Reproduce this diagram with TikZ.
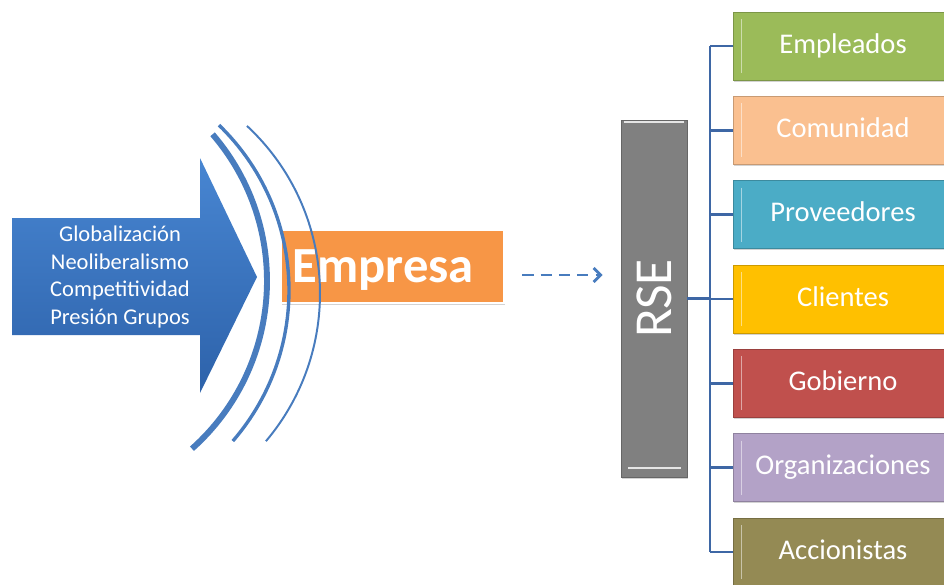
\documentclass[tikz,border=0pt]{standalone}
\usepackage{fontspec}
\setmainfont{Carlito}
\usetikzlibrary{arrows.meta,shadows}

\definecolor{azulclaro}{RGB}{72,134,210}
\definecolor{azuloscuro}{RGB}{45,98,170}
\definecolor{arco}{RGB}{72,124,190}
\definecolor{linea}{RGB}{62,103,165}
\definecolor{naranja}{RGB}{247,150,70}
\definecolor{gris}{RGB}{128,128,128}
\definecolor{verde}{RGB}{155,187,89}
\definecolor{salmon}{RGB}{250,192,144}
\definecolor{aqua}{RGB}{75,172,198}
\definecolor{oro}{RGB}{255,192,0}
\definecolor{rojo}{RGB}{192,80,77}
\definecolor{lila}{RGB}{179,162,199}
\definecolor{oliva}{RGB}{148,138,84}

\begin{document}
\begin{tikzpicture}[x=0.025cm,y=-0.025cm,
    caja/.style={minimum width=5.5cm, minimum height=1.7cm, inner sep=0pt,
      fill=#1, draw=#1!80!black, line width=0.5pt, text=white,
      font=\fontsize{20.3}{24}\selectfont, text height=14.5pt, text depth=4.3pt,
      drop shadow={opacity=0.35, shadow xshift=0.8pt, shadow yshift=-1.2pt},
      path picture={\draw[white, opacity=0.5, line width=1.2pt]
        ([xshift=6pt,yshift=-5pt]path picture bounding box.north west) --
        ([xshift=6pt,yshift=5pt]path picture bounding box.south west);}},
    rama/.style={draw=linea, line width=2pt},
    onda/.style={draw=arco}]
  \useasboundingbox (0,0) rectangle (944,584);
  \clip (0,0) rectangle (944,584);

  % flecha grande
  \shade[top color=azulclaro, bottom color=azuloscuro]
    (12,218) -- (200,218) -- (200,158) -- (257,277) -- (200,393)
    -- (200,335) -- (12,335) -- cycle;
  \node[text=white, align=center, font=\fontsize{16}{19.5}\selectfont]
    (fuerzas) at (120,277) {Globalización\\Neoliberalismo\\Competitividad\\Presión Grupos};

  % empresa
  \node[fill=naranja, draw=white, line width=2.1pt, minimum width=5.575cm,
    minimum height=1.825cm, inner sep=0pt, text=white,
    font=\fontsize{36}{40}\selectfont\bfseries, text height=22.8pt, text depth=0pt,
    drop shadow={opacity=0.35, shadow xshift=1pt, shadow yshift=-1.5pt}]
    (empresa) at (392.5,266.5) {Empresa\hspace*{13pt}};

  % ondas
  \draw[onda, line width=4.2pt] (42,281) ++(-40.7:225) arc[start angle=-40.7, end angle=48.2, radius=225];
  \draw[onda, line width=2.4pt] (58.9,290.4) ++(-45.9:230.1) arc[start angle=-45.9, end angle=40.9, radius=230.1];
  \draw[onda, line width=1.4pt] (91.2,293.5) ++(-47.1:228.8) arc[start angle=-47.1, end angle=40.2, radius=228.8];

  % RSE
  \node[fill=gris, draw=gris!80!black, line width=0.5pt, minimum width=1.65cm,
    minimum height=8.925cm, inner sep=0pt, text=white,
    font=\fontsize{38}{42}\selectfont,
    drop shadow={opacity=0.35, shadow xshift=0.8pt, shadow yshift=-1.2pt},
    path picture={
      \draw[white, opacity=0.8, line width=1.2pt]
        ([xshift=2pt,yshift=-1.5pt]path picture bounding box.north west) --
        ([xshift=-2pt,yshift=-1.5pt]path picture bounding box.north east);
      \draw[white, opacity=0.8, line width=1.5pt]
        ([xshift=5pt,yshift=6.4pt]path picture bounding box.south west) --
        ([xshift=-4pt,yshift=6.4pt]path picture bounding box.south east);}]
    (rse) at (654,298.5) {\rotatebox{90}{RSE}};

  \draw[arco, line width=2pt, dash pattern=on 8pt off 5pt, shorten <=12pt, shorten >=12.8pt,
    -{Straight Barb[length=5pt, width=10pt]}]
    ([yshift=-6pt]empresa.east) -- ([yshift=-6pt]empresa.east -| rse.west);

  % grupos de interes
  \foreach \n/\t/\c [count=\i from 0] in {emp/Empleados/verde, com/Comunidad/salmon,
      pro/Proveedores/aqua, cli/Clientes/oro, gob/Gobierno/rojo,
      org/Organizaciones/lila, acc/Accionistas/oliva}
    \node[caja=\c] (\n) at (843,46+84.33*\i) {\t};

  \coordinate (tronco) at (710,298.5);
  \draw[rama] (rse.east) -- (tronco);
  \draw[rama] (tronco |- emp.west) -- (tronco |- acc.west);
  \foreach \n in {emp,com,pro,cli,gob,org,acc}
    \draw[rama] (tronco |- \n.west) -- (\n.west);
\end{tikzpicture}
\end{document}
